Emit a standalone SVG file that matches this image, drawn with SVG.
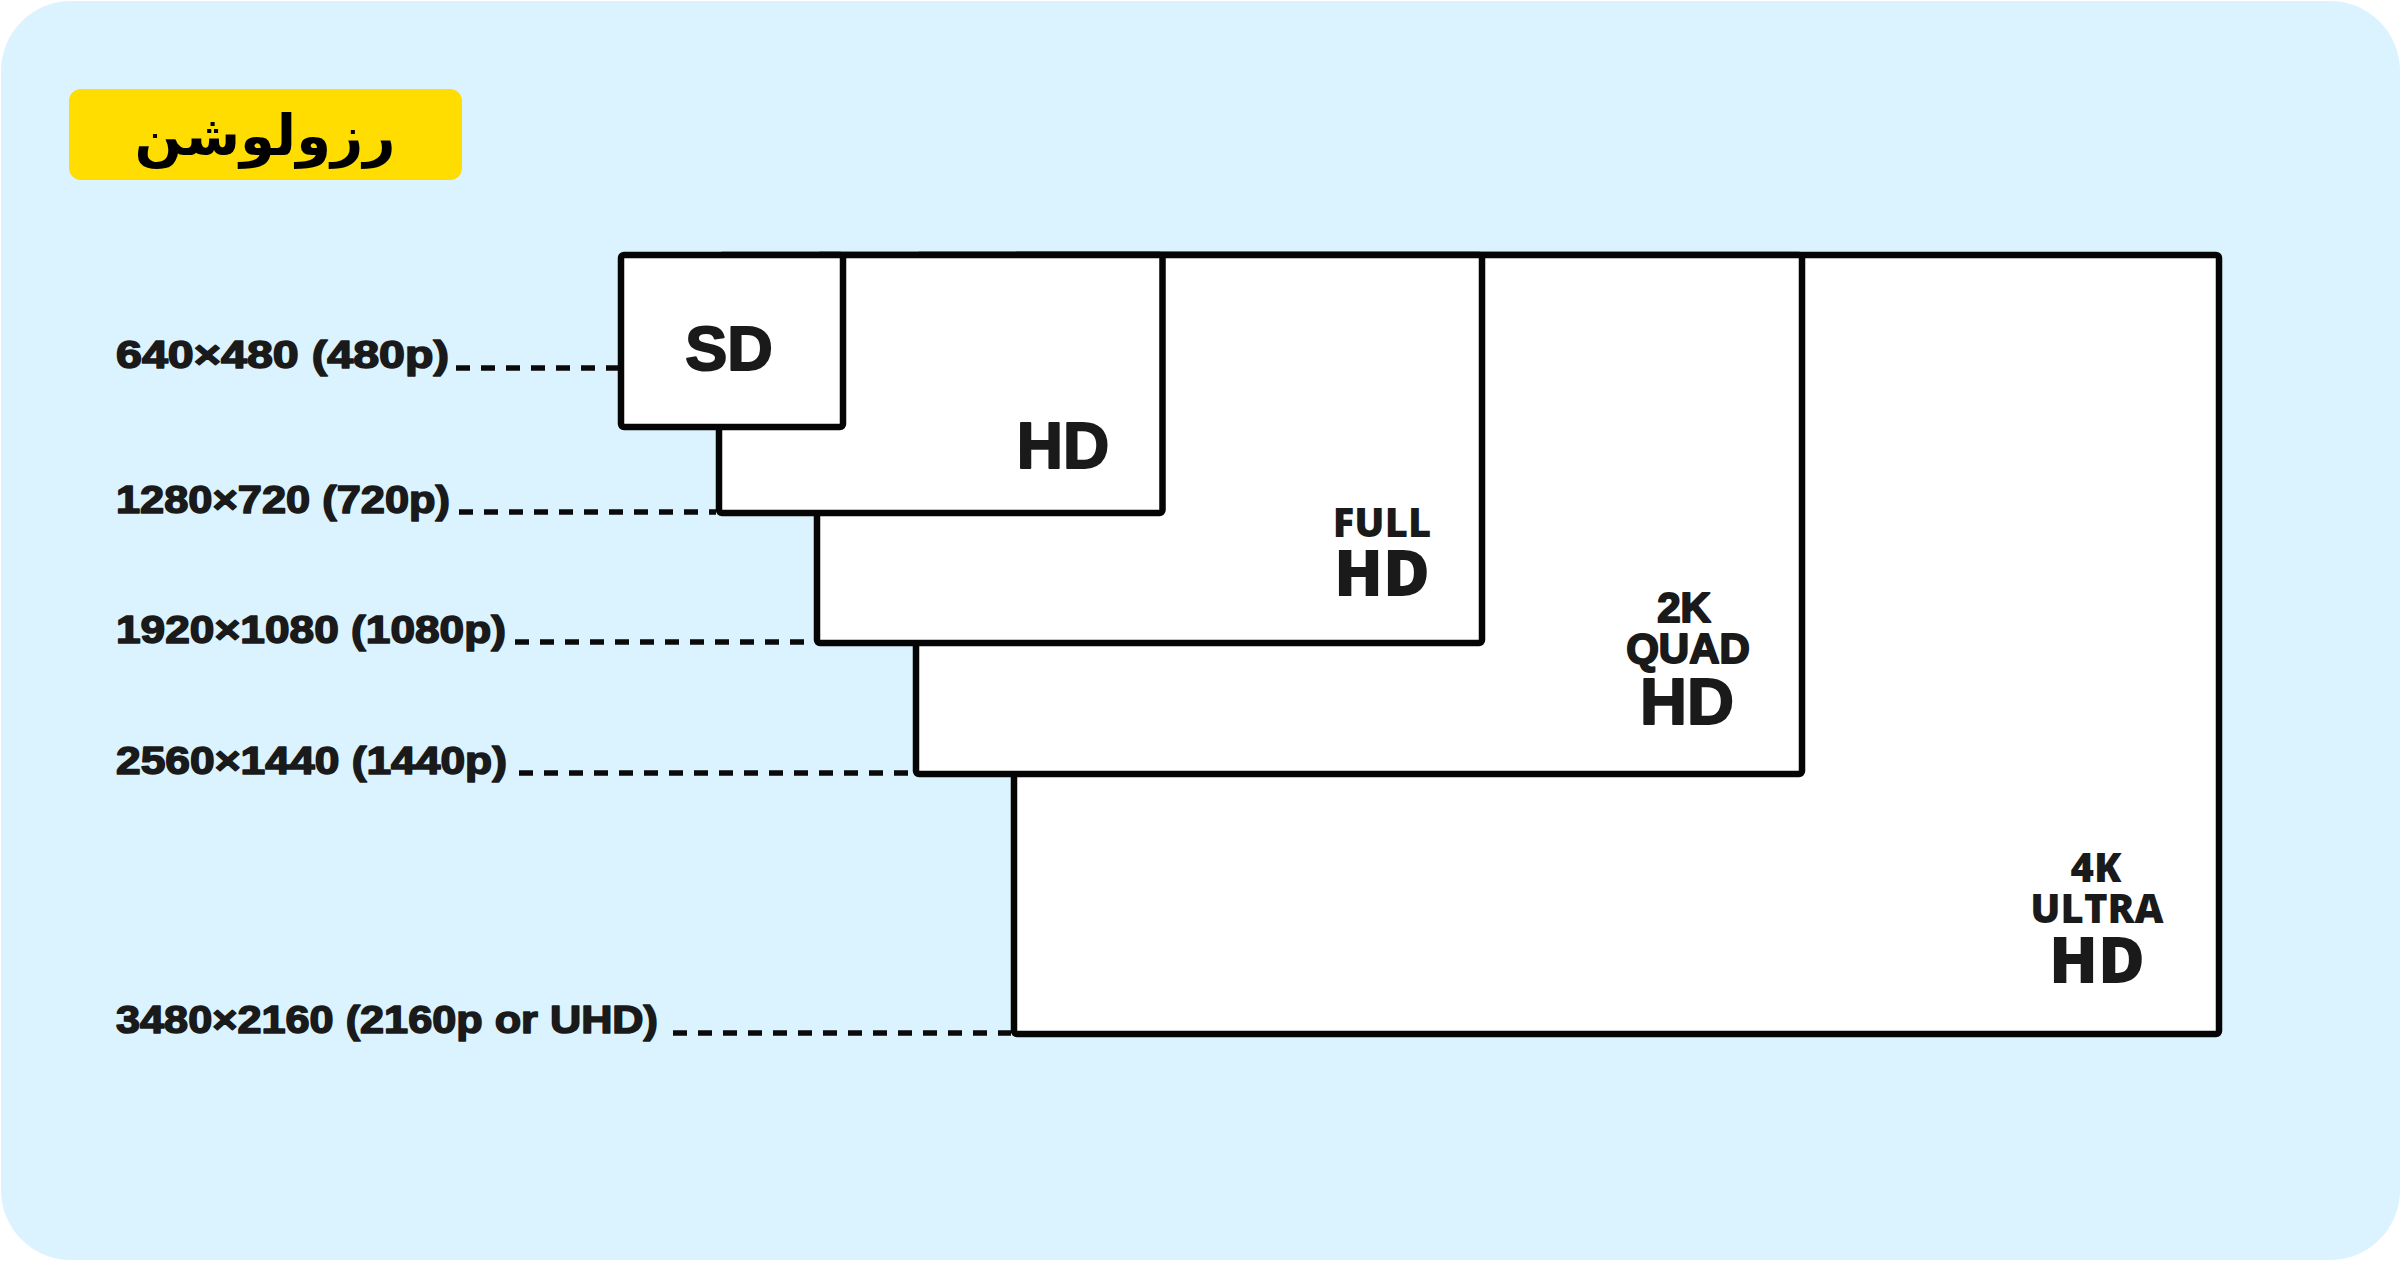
<svg xmlns="http://www.w3.org/2000/svg" width="2401" height="1261" viewBox="0 0 2401 1261">
<style>
.box{fill:#ffffff;stroke:#050505;stroke-width:6.5;stroke-linejoin:round}
.lbl{font-family:"Liberation Sans",Arial,sans-serif;font-weight:700;font-size:39px;fill:#1a1a1a;stroke:#1a1a1a;stroke-width:1.6;stroke-linejoin:round}
.grot{font-family:"Liberation Sans",Arial,sans-serif;font-weight:700;fill:#1a1a1a;text-anchor:middle;stroke:#1a1a1a;stroke-width:2;stroke-linejoin:round}
.hum{font-family:"Open Sans","Noto Sans",sans-serif;font-weight:800;fill:#1a1a1a;text-anchor:middle}
.dash{stroke:#0a0a0a;stroke-width:5.5;stroke-dasharray:14 11;fill:none}
</style>
<rect x="0" y="0" width="2401" height="1261" fill="#ffffff"/>
<rect x="1" y="1" width="2399" height="1259" rx="70" ry="70" fill="#DAF3FE"/>
<g id="title">
<rect x="69" y="89" width="393" height="91" rx="12" ry="12" fill="#FFDD00"/>
<text x="265" y="155" direction="rtl" text-anchor="middle" font-family="'DejaVu Sans',sans-serif" font-weight="700" font-size="56" fill="#000">رزولوشن</text>
</g>
<g id="node-4k">
<rect class="box" x="1014" y="255" width="1205" height="779" rx="3"/>
<text class="hum"><tspan x="2096" y="881.5" font-size="40">4K</tspan><tspan x="2097" y="923" font-size="40">ULTRA</tspan><tspan x="2097" y="982.5" font-size="64">HD</tspan></text>
</g>
<g id="node-2k">
<rect class="box" x="916" y="255" width="886" height="519" rx="3"/>
<text class="grot"><tspan x="1684" y="622" font-size="42">2K</tspan><tspan x="1688" y="663" font-size="42">QUAD</tspan><tspan x="1687" y="724" font-size="65">HD</tspan></text>
</g>
<g id="node-fullhd">
<rect class="box" x="817" y="255" width="665" height="388" rx="3"/>
<text class="hum"><tspan x="1382" y="536.5" font-size="40">FULL</tspan><tspan x="1382" y="596" font-size="64">HD</tspan></text>
</g>
<g id="node-hd">
<rect class="box" x="719" y="255" width="443.5" height="258" rx="3"/>
<text class="grot" x="1063" y="468" font-size="64">HD</text>
</g>
<g id="node-sd">
<rect class="box" x="621" y="255" width="222" height="172" rx="3"/>
<text class="grot" x="729" y="370" font-size="63">SD</text>
</g>
<g id="labels">
<text class="lbl" x="116" y="368" textLength="333" lengthAdjust="spacingAndGlyphs">640×480 (480p)</text>
<text class="lbl" x="116" y="513" textLength="334" lengthAdjust="spacingAndGlyphs">1280×720 (720p)</text>
<text class="lbl" x="116" y="643" textLength="390" lengthAdjust="spacingAndGlyphs">1920×1080 (1080p)</text>
<text class="lbl" x="116" y="774" textLength="391" lengthAdjust="spacingAndGlyphs">2560×1440 (1440p)</text>
<text class="lbl" x="116" y="1033" textLength="542" lengthAdjust="spacingAndGlyphs">3480×2160 (2160p or UHD)</text>
</g>
<g id="connectors">
<line class="dash" x1="456" y1="368" x2="618" y2="368"/>
<line class="dash" x1="459" y1="512" x2="716" y2="512"/>
<line class="dash" x1="515" y1="642" x2="814" y2="642"/>
<line class="dash" x1="519" y1="773" x2="913" y2="773"/>
<line class="dash" x1="673" y1="1033" x2="1011" y2="1033"/>
</g>
</svg>
